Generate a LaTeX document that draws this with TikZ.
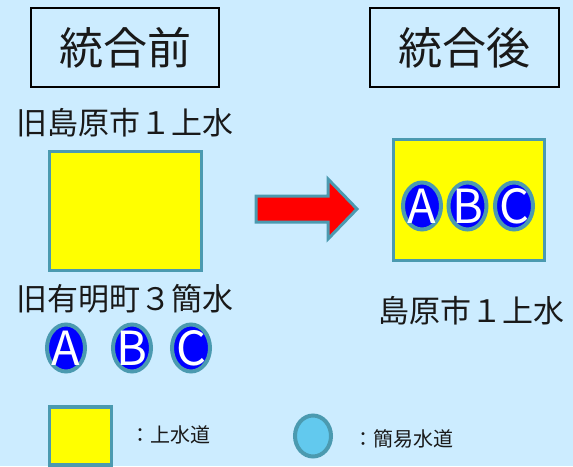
\documentclass[tikz,border=0pt]{standalone}
\usepackage{fontspec}
\newfontfamily\jp{Noto Sans CJK JP}
\usetikzlibrary{shapes.geometric}
\definecolor{bgc}{RGB}{204,236,255}
\definecolor{edgec}{RGB}{75,154,176}
\definecolor{ablue}{RGB}{0,0,255}
\definecolor{yel}{RGB}{255,255,0}
\definecolor{lblue}{RGB}{98,201,238}
\definecolor{txt}{RGB}{25,25,25}
\newcommand{\lett}[1]{\smash{\makebox[0pt]{\raisebox{-17pt}{#1}}}}
\tikzset{
  titlebox/.style={draw=black, line width=1.5pt, inner sep=0pt, font=\jp\fontsize{44}{44}\selectfont, text=txt},
  lab/.style={inner sep=0pt, font=\jp\fontsize{31}{31}\selectfont, text=txt},
  ybox/.style={draw=edgec, fill=yel, line width=3.5pt, inner sep=0pt},
  sysc/.style={ellipse, draw=edgec, fill=ablue, line width=4pt, inner sep=0pt,
    minimum width=38pt, minimum height=47pt, text=white, font=\jp\fontsize{47}{47}\selectfont},
  legt/.style={inner sep=0pt, anchor=west, font=\jp\fontsize{20}{20}\selectfont, text=txt},
}
\begin{document}
\begin{tikzpicture}[x=1pt,y=-1pt]
\fill[bgc] (0,0) rectangle (573,466);
\useasboundingbox (0,0) rectangle (573,466);
% titles
\node[titlebox, minimum width=188pt, minimum height=79pt] (before) at (125,47.5) {統合前};
\node[titlebox, minimum width=189pt, minimum height=79pt] (after) at (464.5,47.5) {統合後};
% before
\node[lab] (l1) at (125,123) {旧島原市１上水};
\node[ybox, minimum width=152pt, minimum height=119pt] (old) at (125.5,211) {};
\node[lab] (l2) at (125,299) {旧有明町３簡水};
\node[sysc] (a1) at (66,348) {\lett{A}};
\node[sysc] (b1) at (132,348) {\lett{B}};
\node[sysc] (c1) at (191,348) {\lett{C}};
% arrow
\draw[edgec, fill=red, line width=3pt, line join=miter]
  (256,196) -- (328,196) -- (328,179) -- (357,209) -- (328,239) -- (328,222) -- (256,222) -- cycle;
% after
\node[ybox, minimum width=151pt, minimum height=121pt] (new) at (469,200) {};
\node[sysc] (a2) at (422,206) {\lett{A}};
\node[sysc] (b2) at (467.5,206) {\lett{B}};
\node[sysc] (c2) at (514,206) {\lett{C}};
\node[lab] (l3) at (471,311) {島原市１上水};
% legend
\node[ybox, minimum width=62pt, minimum height=58pt] (ly) at (80.5,436) {};
\node[legt] (lyt) at (130,435) {：上水道};
\node[ellipse, draw=edgec, fill=lblue, line width=4pt, inner sep=0pt, minimum width=36pt, minimum height=41pt] (lc) at (313,436) {};
\node[legt] (lct) at (353,439) {：簡易水道};
\end{tikzpicture}
\end{document}
